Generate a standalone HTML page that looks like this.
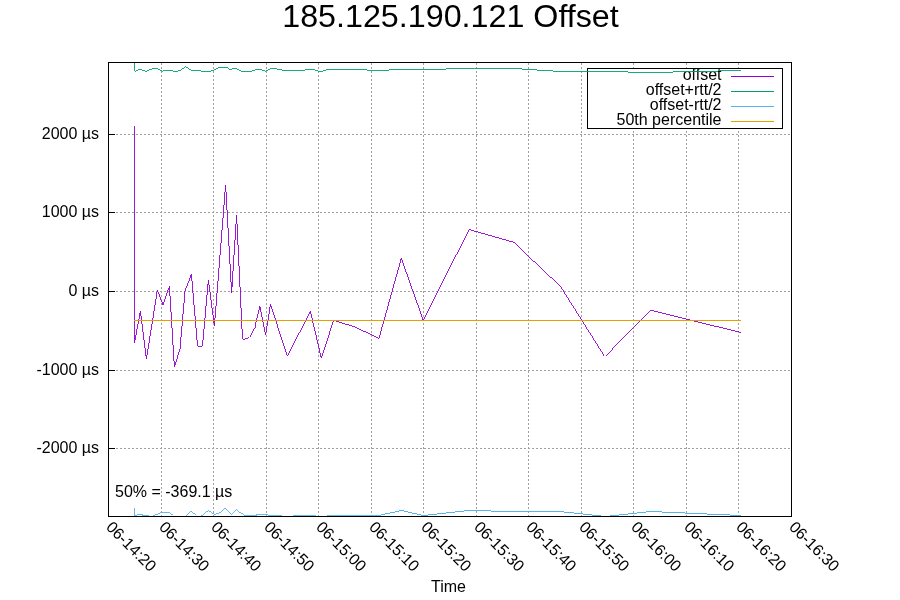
<!DOCTYPE html><html><head><meta charset="utf-8"><style>html,body{margin:0;padding:0;background:#fff;overflow:hidden}svg{display:block;will-change:transform}</style></head><body>
<svg width="900" height="600" viewBox="0 0 900 600">
<rect width="900" height="600" fill="#fff"/>
<path d="M108,134.5H791 M108,212.5H791 M108,291.5H791 M108,370.5H791 M108,448.5H791 M161.5,517V62 M213.5,517V62 M266.5,517V62 M318.5,517V62 M371.5,517V62 M423.5,517V62 M476.5,517V62 M528.5,517V62 M581.5,517V62 M633.5,517V62 M686.5,517V62 M738.5,517V62" stroke="#a0a0a0" stroke-width="1" stroke-dasharray="2,2" fill="none" shape-rendering="crispEdges"/>
<rect x="587.5" y="68.5" width="195" height="60" fill="#fff" stroke="none"/>
<path d="M587.5,68.5H782.5V128.5H587.5Z" stroke="#000" stroke-width="1" fill="none" shape-rendering="crispEdges"/>
<text x="721.5" y="80.1" font-family="Liberation Sans, sans-serif" font-size="16" text-anchor="end" fill="#000">offset</text>
<line x1="731" y1="76.5" x2="774" y2="76.5" stroke="#9400d3" stroke-width="1" shape-rendering="crispEdges"/>
<polyline points="134.5,126.0 134.5,343.0 140.4,311.0 146.4,359.0 157.4,290.0 163.0,305.0 169.4,286.4 174.4,367.0 180.0,349.0 185.0,291.0 191.4,274.4 197.6,346.4 202.4,346.4 208.4,280.0 214.4,326.0 225.6,185.0 231.6,293.0 236.6,215.0 242.5,339.4 245.5,338.4 249.3,337.0 255.0,326.5 259.8,306.4 265.5,335.0 270.5,304.3 287.3,356.3 310.4,311.3 321.3,358.3 333.6,320.4 337.2,321.5 352.5,326.2 378.8,338.9 401.3,258.3 423.3,320.4 468.9,229.5 514.0,242.4 525.3,253.3 548.0,274.7 561.8,287.5 605.2,356.4 650.8,310.3 740.8,332.5" stroke="#9400d3" stroke-width="0.9" fill="none" shape-rendering="crispEdges"/>
<text x="721.5" y="95.1" font-family="Liberation Sans, sans-serif" font-size="16" text-anchor="end" fill="#000">offset+rtt/2</text>
<line x1="731" y1="91.5" x2="774" y2="91.5" stroke="#009e73" stroke-width="1" shape-rendering="crispEdges"/>
<polyline points="134.5,62.5 134.5,71.1 136.1,70.6 140.6,69.4 146.4,71.3 150.6,69.4 156.1,68.1 162.2,71.1 166.7,70.3 171.1,70.3 173.3,71.3 176.7,71.3 180.6,70.3 185.6,66.7 191.1,70.3 200.0,70.3 201.1,71.3 210.0,71.3 213.9,70.3 219.4,67.4 226.7,67.4 230.0,69.4 235.2,68.1 241.1,71.3 250.6,71.3 257.2,69.2 260.6,69.2 265.6,71.4 271.1,68.1 281.7,69.8 282.2,70.6 304.4,70.6 305.6,69.4 312.8,69.4 318.3,71.1 323.3,71.1 325.0,70.2 330.0,69.2 366.7,69.2 367.2,70.2 389.4,70.2 390.0,69.2 445.9,69.2 446.5,68.1 521.7,68.1 522.2,69.4 536.7,69.4 537.2,70.6 552.8,70.6 553.3,71.3 627.8,71.3 628.3,72.2 672.8,72.2 673.3,71.1 718.3,71.1 718.8,70.3 740.8,70.3" stroke="#009e73" stroke-width="0.9" fill="none" shape-rendering="crispEdges"/>
<text x="721.5" y="110.1" font-family="Liberation Sans, sans-serif" font-size="16" text-anchor="end" fill="#000">offset-rtt/2</text>
<line x1="731" y1="106.5" x2="774" y2="106.5" stroke="#56b4e9" stroke-width="1" shape-rendering="crispEdges"/>
<polyline points="134.5,507.5 134.5,515.5 137.2,514.5 142.8,514.5 143.3,515.5 148.9,515.5 149.4,516.5 152.8,516.5 153.3,515.5 156.7,514.5 159.4,513.2 162.2,512.5 169.4,512.5 173.4,515.5 174.4,516.5 185.6,516.5 186.1,515.5 191.3,511.1 196.2,515.5 197.2,516.5 200.1,516.5 200.6,515.5 202.8,515.2 208.3,510.3 213.3,513.6 215.0,514.3 218.9,513.3 225.6,508.1 231.4,514.4 236.7,509.4 239.4,512.0 242.8,514.2 245.0,515.5 255.6,515.5 256.1,514.5 267.2,514.5 268.3,515.5 281.7,515.5 282.2,516.5 292.8,516.5 293.3,515.5 315.6,515.5 316.1,516.5 326.7,516.5 327.2,515.5 380.9,515.5" stroke="#56b4e9" stroke-width="0.9" fill="none" shape-rendering="crispEdges"/><path d="M381,514h4v1h-4z M385,513h5v1h-5z M390,512h5v1h-5z M395,511h4v1h-4z M399,510h5v1h-5z M404,511h4v1h-4z M408,512h4v1h-4z M412,513h5v1h-5z M417,514h4v1h-4z M421,515h7v1h-7z M428,514h9v1h-9z M437,513h9v1h-9z M446,512h9v1h-9z M455,511h9v1h-9z M464,510h27v1h-27z M491,511h73v1h-73z M564,512h10v1h-10z M574,513h9v1h-9z M583,514h9v1h-9z M592,515h9v1h-9z M610,515h9v1h-9z M619,514h9v1h-9z M628,513h9v1h-9z M637,512h9v1h-9z M646,511h16v1h-16z M662,512h23v1h-23z M685,513h22v1h-22z M707,514h23v1h-23z M730,515h11v1h-11z" fill="#56b4e9" shape-rendering="crispEdges"/>
<text x="721.5" y="125.1" font-family="Liberation Sans, sans-serif" font-size="16" text-anchor="end" fill="#000">50th percentile</text>
<line x1="731" y1="121.5" x2="774" y2="121.5" stroke="#e69f00" stroke-width="1" shape-rendering="crispEdges"/>
<line x1="134" y1="320.5" x2="741" y2="320.5" stroke="#e69f00" stroke-width="1" shape-rendering="crispEdges"/>
<path d="M108.5,62.5H791.5V516.5H108.5Z M108,134.5h7 M108,212.5h7 M108,291.5h7 M108,370.5h7 M108,448.5h7" stroke="#000" stroke-width="1" fill="none" shape-rendering="crispEdges"/>
<text x="99" y="139" font-family="Liberation Sans, sans-serif" font-size="16" text-anchor="end" fill="#000">2000 µs</text>
<text x="99" y="217" font-family="Liberation Sans, sans-serif" font-size="16" text-anchor="end" fill="#000">1000 µs</text>
<text x="99" y="296" font-family="Liberation Sans, sans-serif" font-size="16" text-anchor="end" fill="#000">0 µs</text>
<text x="99" y="375" font-family="Liberation Sans, sans-serif" font-size="16" text-anchor="end" fill="#000">-1000 µs</text>
<text x="99" y="453" font-family="Liberation Sans, sans-serif" font-size="16" text-anchor="end" fill="#000">-2000 µs</text>
<text transform="translate(105.25,528) rotate(45)" font-family="Liberation Sans, sans-serif" font-size="16" fill="#000">06-14:20</text>
<text transform="translate(158.25,528) rotate(45)" font-family="Liberation Sans, sans-serif" font-size="16" fill="#000">06-14:30</text>
<text transform="translate(210.25,528) rotate(45)" font-family="Liberation Sans, sans-serif" font-size="16" fill="#000">06-14:40</text>
<text transform="translate(263.25,528) rotate(45)" font-family="Liberation Sans, sans-serif" font-size="16" fill="#000">06-14:50</text>
<text transform="translate(315.25,528) rotate(45)" font-family="Liberation Sans, sans-serif" font-size="16" fill="#000">06-15:00</text>
<text transform="translate(368.25,528) rotate(45)" font-family="Liberation Sans, sans-serif" font-size="16" fill="#000">06-15:10</text>
<text transform="translate(420.25,528) rotate(45)" font-family="Liberation Sans, sans-serif" font-size="16" fill="#000">06-15:20</text>
<text transform="translate(473.25,528) rotate(45)" font-family="Liberation Sans, sans-serif" font-size="16" fill="#000">06-15:30</text>
<text transform="translate(525.25,528) rotate(45)" font-family="Liberation Sans, sans-serif" font-size="16" fill="#000">06-15:40</text>
<text transform="translate(578.25,528) rotate(45)" font-family="Liberation Sans, sans-serif" font-size="16" fill="#000">06-15:50</text>
<text transform="translate(630.25,528) rotate(45)" font-family="Liberation Sans, sans-serif" font-size="16" fill="#000">06-16:00</text>
<text transform="translate(683.25,528) rotate(45)" font-family="Liberation Sans, sans-serif" font-size="16" fill="#000">06-16:10</text>
<text transform="translate(735.25,528) rotate(45)" font-family="Liberation Sans, sans-serif" font-size="16" fill="#000">06-16:20</text>
<text transform="translate(788.25,528) rotate(45)" font-family="Liberation Sans, sans-serif" font-size="16" fill="#000">06-16:30</text>
<text x="448.5" y="592" font-family="Liberation Sans, sans-serif" font-size="16" text-anchor="middle" fill="#000">Time</text>
<text x="115" y="497" font-family="Liberation Sans, sans-serif" font-size="16" fill="#000">50% = -369.1 µs</text>
<text x="450.5" y="27" font-family="Liberation Sans, sans-serif" font-size="32.25" text-anchor="middle" fill="#000">185.125.190.121 Offset</text>
</svg></body></html>
